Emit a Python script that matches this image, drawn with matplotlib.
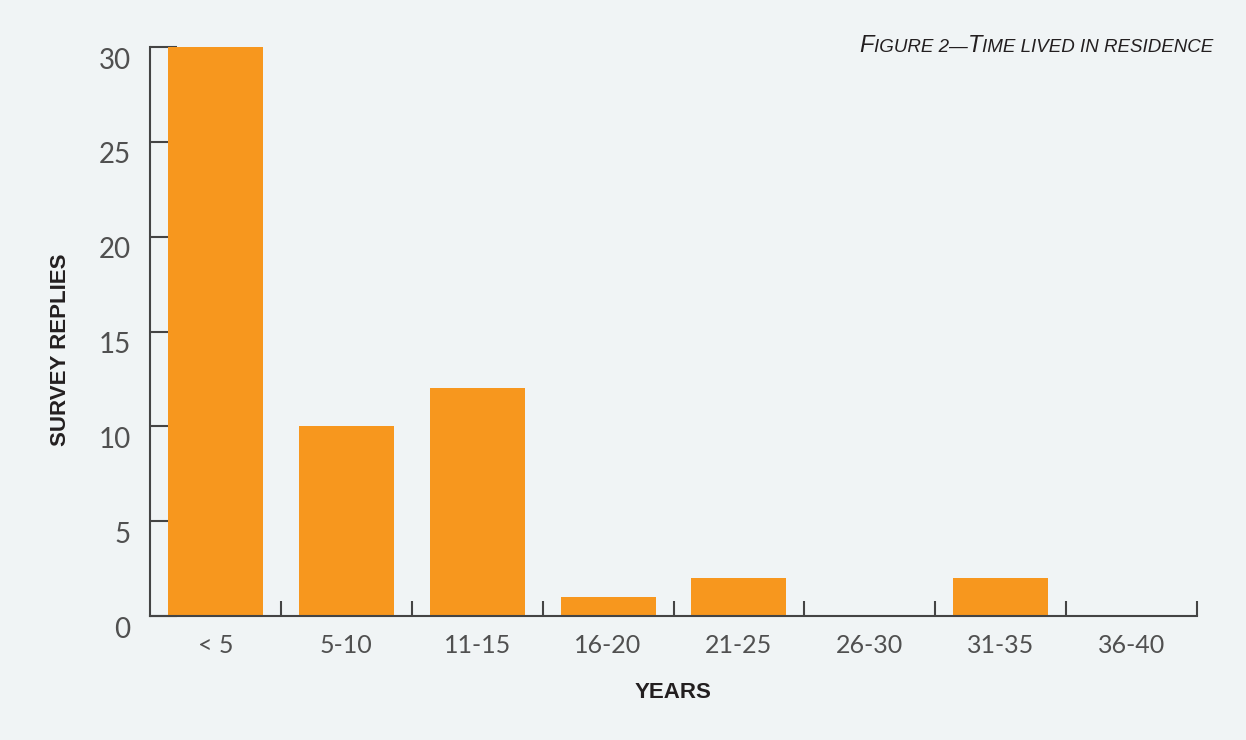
import numpy as np
import matplotlib
matplotlib.use("Agg")
import matplotlib.pyplot as plt
from matplotlib.transforms import ScaledTranslation

categories = ["< 5", "5-10", "11-15", "16-20", "21-25", "26-30", "31-35", "36-40"]
replies = [30, 10, 12, 1, 2, 0, 2, 0]
y_ticks = [0, 5, 10, 15, 20, 25, 30]

bg = "#f0f4f5"
bar_color = "#f7971e"
axis_color = "#444444"
num_color = "#505050"
label_color = "#231f20"
num_font = ["Lato", "DejaVu Sans"]
cond_font = ["Liberation Sans", "DejaVu Sans"]

fig = plt.figure(figsize=(12.46, 7.40), dpi=100, facecolor=bg)
ax = fig.add_axes([150 / 1246, 124 / 740, 1047 / 1246, 569 / 740])
ax.set_facecolor(bg)

x = np.arange(len(categories))
ax.bar(x, replies, width=0.725, color=bar_color, zorder=2)

ax.set_xlim(-0.5, len(categories) - 0.5)
ax.set_ylim(0, 30)

for side in ["top", "right"]:
    ax.spines[side].set_visible(False)
for side in ["left", "bottom"]:
    ax.spines[side].set_color(axis_color)
    ax.spines[side].set_linewidth(1.5)

# y ticks point inward, labels on the left
ax.set_yticks(y_ticks)
ax.set_yticklabels([str(v) for v in y_ticks], fontsize=20, color=num_color, family=num_font)
ax.tick_params(axis="y", direction="in", length=19.5, width=1.5, color=axis_color, pad=14)
for lbl in ax.get_yticklabels():
    lbl.set_transform(lbl.get_transform() + ScaledTranslation(0, -8 / 72, fig.dpi_scale_trans))

# category separators as major ticks, names as minor ticks
ax.set_xticks(np.arange(0.5, len(categories), 1.0))
ax.set_xticklabels([])
ax.tick_params(axis="x", which="major", direction="in", length=11, width=1.5, color=axis_color)
ax.set_xticks(x, minor=True)
ax.set_xticklabels(categories, minor=True, fontsize=18, color=num_color, family=num_font)
ax.tick_params(axis="x", which="minor", length=0, pad=13)

fig.text(60 / 1246, 1 - 350 / 740, "SURVEY REPLIES", rotation=90, ha="center", va="center",
         fontsize=16, fontweight="bold", color=label_color, family=cond_font)
fig.text(673 / 1246, 1 - 693 / 740, "YEARS", ha="center", va="center",
         fontsize=16, fontweight="bold", color=label_color, family=cond_font)

# title in faux small caps, right aligned
pieces = [("F", 17), ("IGURE 2—", 13.5), ("T", 17), ("IME LIVED IN RESIDENCE", 13.5)]
renderer = fig.canvas.get_renderer()
texts = []
xpos = 0.0
for s, size in pieces:
    t = fig.text(xpos, 1 - 52 / 740, s, fontsize=size, style="italic", color=label_color,
                 family=cond_font, ha="left", va="baseline")
    w = t.get_window_extent(renderer).width / fig.bbox.width
    texts.append((t, xpos))
    xpos += w
shift = 1213 / 1246 - xpos
for t, x0 in texts:
    t.set_x(x0 + shift)

fig.savefig("out.png", dpi=100, facecolor=bg)
